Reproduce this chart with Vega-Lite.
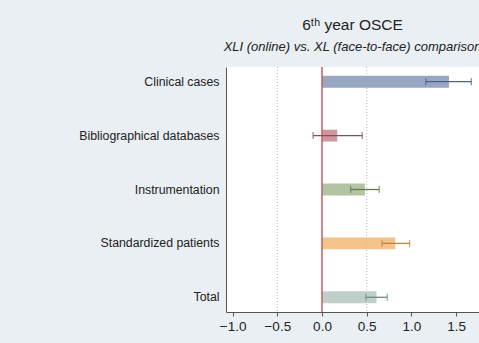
{
  "$schema": "https://vega.github.io/schema/vega-lite/v6.json",
  "autosize": "none",
  "padding": {"left": 226, "top": 67, "right": 0, "bottom": 31},
  "width": 253,
  "height": 245,
  "background": "#e9eff2",
  "config": {
    "font": "Liberation Sans",
    "view": {"fill": "#ffffff", "stroke": null}
  },
  "title": {
    "text": "6ᵗʰ year OSCE",
    "subtitle": "XLI (online) vs. XL (face-to-face) comparison",
    "anchor": "middle",
    "frame": "group",
    "fontSize": 15.5,
    "fontWeight": "normal",
    "color": "#222222",
    "subtitleFontSize": 13,
    "subtitleFontStyle": "italic",
    "subtitleColor": "#222222",
    "subtitlePadding": 8,
    "offset": 12
  },
  "datasets": {
    "main": [
      {"item": "Clinical cases", "est": 1.42, "lo": 1.16, "hi": 1.67},
      {"item": "Bibliographical databases", "est": 0.17, "lo": -0.10, "hi": 0.45},
      {"item": "Instrumentation", "est": 0.48, "lo": 0.32, "hi": 0.64},
      {"item": "Standardized patients", "est": 0.82, "lo": 0.67, "hi": 0.98},
      {"item": "Total", "est": 0.61, "lo": 0.49, "hi": 0.73}
    ],
    "dots": [{"v": -0.5}, {"v": 0.5}],
    "zero": [{"v": 0}]
  },
  "layer": [
    {
      "data": {"name": "dots"},
      "mark": {"type": "rule", "color": "#b8b8b8", "strokeDash": [1, 2], "strokeWidth": 1},
      "encoding": {"x": {"field": "v", "type": "quantitative", "scale": {"domain": [-1.074, 1.756], "nice": false, "zero": false}}}
    },
    {
      "data": {"name": "main"},
      "mark": {"type": "bar", "opacity": 0.88},
      "encoding": {
        "y": {
          "field": "item", "type": "nominal", "sort": null,
          "scale": {"paddingInner": 0.78, "paddingOuter": 0.163},
          "axis": {"title": null, "ticks": false, "labelPadding": 7, "labelFontSize": 12.3, "labelColor": "#222222", "domainColor": "#555555", "domainWidth": 1}
        },
        "x": {
          "field": "est", "type": "quantitative",
          "scale": {"domain": [-1.074, 1.756], "nice": false, "zero": false},
          "axis": {"title": null, "values": [-1, -0.5, 0, 0.5, 1, 1.5], "format": ".1f", "grid": false, "tickSize": 4, "tickColor": "#555555", "domainColor": "#555555", "labelFontSize": 13.5, "labelColor": "#222222", "labelPadding": 3}
        },
        "x2": {"datum": 0},
        "color": {
          "field": "item", "type": "nominal", "legend": null,
          "scale": {"domain": ["Clinical cases", "Bibliographical databases", "Instrumentation", "Standardized patients", "Total"],
                    "range": ["#8a9bb8", "#c7898f", "#a7bc95", "#f1bb7a", "#b8c8c2"]}
        }
      }
    },
    {
      "data": {"name": "zero"},
      "mark": {"type": "rule", "color": "#cc5a62", "strokeWidth": 1.5},
      "encoding": {"x": {"field": "v", "type": "quantitative"}}
    },
    {
      "data": {"name": "main"},
      "layer": [
        {
          "mark": {"type": "rule", "strokeWidth": 1.3},
          "encoding": {
            "y": {"field": "item", "type": "nominal", "sort": null},
            "x": {"field": "lo", "type": "quantitative"},
            "x2": {"field": "hi"},
            "color": {
              "field": "item", "type": "nominal", "legend": null,
              "scale": {"domain": ["Clinical cases", "Bibliographical databases", "Instrumentation", "Standardized patients", "Total"],
                        "range": ["#4d6183", "#8f4b58", "#617d52", "#c4813f", "#6e8a80"]}
            }
          }
        },
        {
          "transform": [{"fold": ["lo", "hi"], "as": ["end", "val"]}],
          "mark": {"type": "tick", "size": 7, "thickness": 1.3, "orient": "vertical"},
          "encoding": {
            "y": {"field": "item", "type": "nominal", "sort": null},
            "x": {"field": "val", "type": "quantitative"},
            "color": {
              "field": "item", "type": "nominal", "legend": null,
              "scale": {"domain": ["Clinical cases", "Bibliographical databases", "Instrumentation", "Standardized patients", "Total"],
                        "range": ["#4d6183", "#8f4b58", "#617d52", "#c4813f", "#6e8a80"]}
            }
          }
        }
      ],
      "resolve": {"scale": {"color": "shared"}}
    }
  ],
  "resolve": {"scale": {"color": "independent"}}
}
